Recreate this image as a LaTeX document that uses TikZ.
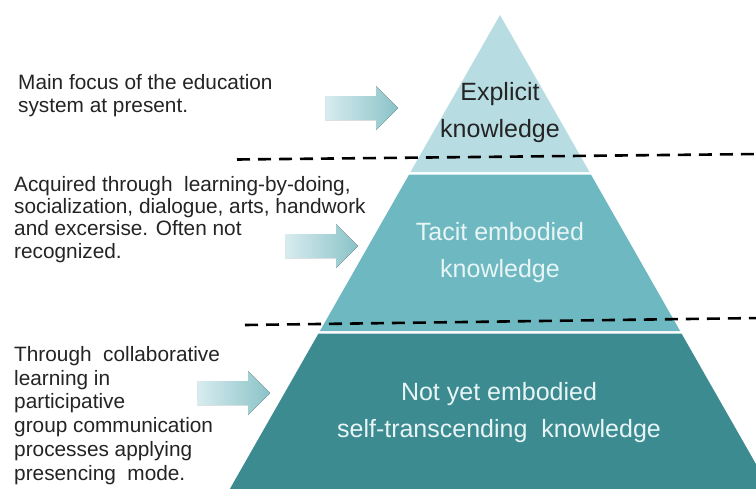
\documentclass[tikz,border=0pt]{standalone}
\usepackage{fontspec}
\setmainfont{Liberation Sans}
\begin{document}
\begin{tikzpicture}[x=1pt,y=-1pt]
\definecolor{tierA}{RGB}{183,221,226}
\definecolor{tierB}{RGB}{110,185,193}
\definecolor{tierC}{RGB}{60,139,145}
\definecolor{arrowL}{RGB}{216,236,239}
\definecolor{arrowR}{RGB}{138,195,200}
\definecolor{darktext}{RGB}{36,36,36}
\definecolor{paletext}{RGB}{232,245,246}
\tikzset{
  note/.style={anchor=base west, inner sep=0pt, align=left, text=darktext},
  tierlabel/.style={anchor=base, inner sep=0pt, align=center,
    font=\fontsize{25}{37}\selectfont},
  divider/.style={line width=2.6pt, dash pattern=on 13pt off 8pt},
  pointer/.style={left color=arrowL, right color=arrowR, draw=none},
}
\useasboundingbox (0,0) rectangle (756,488);
\fill[white] (0,0) rectangle (756,488);
\clip (0,0) rectangle (756,488);

% pyramid tiers (apex at (500,15), flanks of slope 0.57)
\fill[tierA] (500,15) -- (589.5,172) -- (410.5,172) -- cycle;
\fill[tierB] (409.1,174.5) -- (590.9,174.5) -- (680.1,331) -- (319.9,331) -- cycle;
\fill[tierC] (318.5,333.5) -- (681.5,333.5) -- (773.6,495) -- (226.4,495) -- cycle;

% dashed dividers
\coordinate (d1a) at (237,159.5);
\coordinate (d1b) at (760,154);
\coordinate (d2a) at (245,325);
\coordinate (d2b) at (760,318);
\draw[divider] (d1a) -- (d1b);
\draw[divider] (d2a) -- (d2b);

% tier labels (anchored at the baseline of their last line)
\node[tierlabel, text=darktext] (explicit) at (500,137) {Explicit\\knowledge};
\node[tierlabel, text=paletext] (tacit) at (500,277) {Tacit embodied\\knowledge};
\node[tierlabel, text=paletext] (notyet) at (499,437) {Not yet embodied\\self-transcending\ \ knowledge};

% side notes (anchored at the baseline of their last line)
\node[note, font=\fontsize{20.8}{23}\selectfont] (n1) at (18,112)
  {Main focus of the education\\system at present.};
\node[note, font=\fontsize{20.8}{22.3}\selectfont] (n2) at (14,258)
  {Acquired through\ \ learning-by-doing,\\socialization, dialogue,\ arts, handwork\\and\ excersise. Often not\\recognized.};
\node[note, font=\fontsize{20.8}{23.7}\selectfont] (n3) at (14,480)
  {Through\ \ collaborative\\learning\ in\\participative\\group communication\\processes applying\\presencing\ \ mode.};

% block arrows
\foreach \name/\x/\y in {a1/325/108, a2/285/246, a3/197/393}{
  \fill[pointer] (\x,\y-12) -- ++(51,0) -- ++(0,-10) -- ++(22,22)
    -- ++(-22,22) -- ++(0,-10) -- ++(-51,0) -- cycle;
}
\end{tikzpicture}
\end{document}
